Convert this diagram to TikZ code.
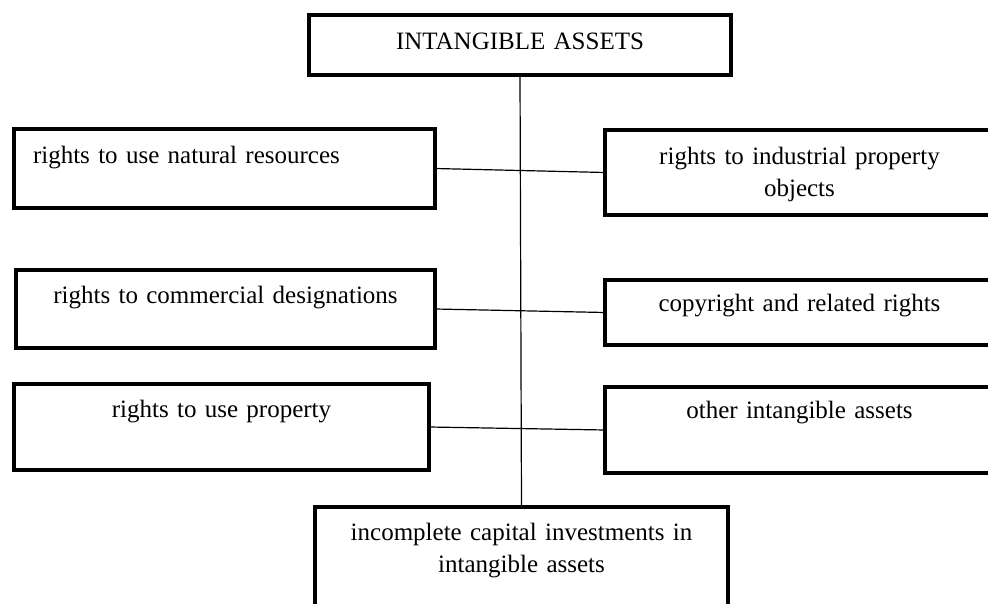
\documentclass[tikz,border=0pt]{standalone}
\usepackage{fontspec}
\setmainfont{Liberation Serif}

\begin{document}
\begin{tikzpicture}[
    x=1pt, y=-1pt,
    box/.style={
        draw,
        rectangle,
        line width=4pt,
        outer sep=0pt,
        anchor=north west,
        inner xsep=0pt,
        inner ysep=0pt,
        align=center,
        font=\fontsize{25}{32}\selectfont
    },
    leftbox/.style={
        box,
        align=left,
        inner xsep=19pt
    },
    link/.style={line width=1.2pt}
]
\useasboundingbox (0,0) rectangle (988,604);
\clip (0,0) rectangle (988,604);

% Top box
\node[box, text width=422pt, text height=35pt, text depth=25pt] (assets) at (309,15) {INTANGIBLE ASSETS};

% Left column
\node[leftbox, text width=383pt, text height=35pt, text depth=44pt] (natural) at (14,129) {rights to use natural resources};
\node[box, text width=419pt, text height=33pt, text depth=45pt] (commercial) at (16,270) {rights to commercial designations};
\node[box, text width=415pt, text height=33pt, text depth=53pt] (property) at (14,384) {rights to use property};

% Right column - runs off the page edge
\node[box, text width=389pt, text height=35pt, text depth=50pt] (industrial) at (605,130) {rights to industrial property\\objects};
\node[box, text width=389pt, text height=31pt, text depth=34pt] (copyright) at (605,280) {copyright and related rights};
\node[box, text width=389pt, text height=31pt, text depth=55pt] (other) at (605,387) {other intangible assets};

% Bottom box
\node[box, text width=413pt, text height=33pt, text depth=100pt] (capital) at (315,507) {incomplete capital investments in\\intangible assets};

% Main trunk
\draw[link] (assets.south) -- (capital.north);

% Cross links
\draw[link] (natural.east) -- (industrial.west);
\draw[link] (commercial.east) -- (copyright.west);
\draw[link] (property.east) -- (other.west);

\end{tikzpicture}
\end{document}
